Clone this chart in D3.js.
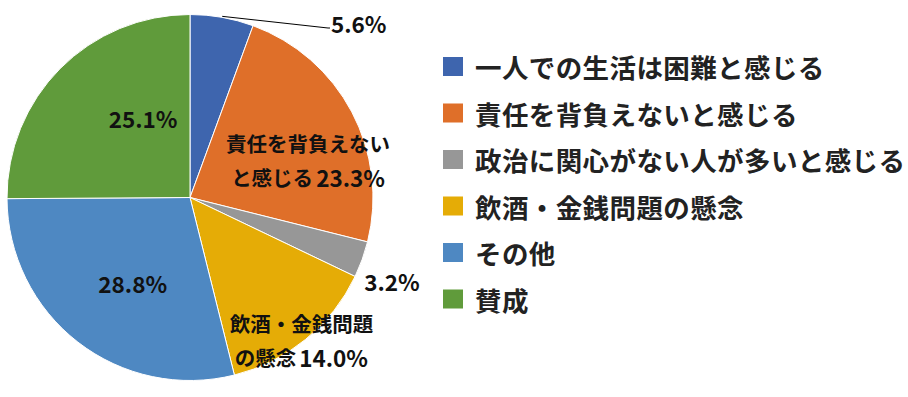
<!DOCTYPE html>
<html>
<head>
<meta charset="utf-8">
<script src="https://cdn.jsdelivr.net/npm/d3@7/dist/d3.min.js"></script>
<style>
  body { margin: 0; background: #fff; }
  text { font-family: "Noto Sans CJK JP", "Noto Sans", sans-serif; }
</style>
</head>
<body>
<script>
// data
var categories = ["一人での生活は困難と感じる", "責任を背負えないと感じる", "政治に関心がない人が多いと感じる",
                  "飲酒・金銭問題の懸念", "その他", "賛成"];
var values = [5.6, 23.3, 3.2, 14.0, 28.8, 25.1];
var colors = ["#3E65AE", "#DF6F29", "#979797", "#E5AC06", "#4E88C2", "#609B3B"];
// label text lines (percent goes after the last line)
var labelLines = [[""], ["責任を背負えない", "と感じる"], [""], ["飲酒・金銭問題", "の懸念"], [""], [""]];

var w = 908, h = 397;
var cx = 190, cy = 197.5, r = 183;

var svg = d3.select("body").append("svg")
    .attr("width", w)
    .attr("height", h);

var pie = d3.pie().sort(null).value(function (d) { return d; });
var arcs = pie(values);
var arc = d3.arc().innerRadius(0).outerRadius(r);

var g = svg.append("g").attr("transform", "translate(" + cx + "," + cy + ")");

g.selectAll("path")
    .data(arcs)
    .enter()
    .append("path")
    .attr("d", arc)
    .attr("fill", function (d, i) { return colors[i]; })
    .attr("stroke", "#fff")
    .attr("stroke-width", 1);

// label placement: radius factor + nudge, per slice
var labelPos = [
  { k: 1.0,  dx: 0,   dy: 0 },    // 5.6 (leader line, handled below)
  { k: 0.6,  dx: 21,  dy: 14 },
  { k: 1.15, dx: 4,   dy: 12 },
  { k: 0.85, dx: 13,  dy: 22 },
  { k: 0.6,  dx: 10,  dy: -1 },
  { k: 0.6,  dx: 31,  dy: -2 }
];

function polar(a, rr) { return [Math.sin(a) * rr, -Math.cos(a) * rr]; }

arcs.forEach(function (d, i) {
  var mid = (d.startAngle + d.endAngle) / 2;
  var pct = d3.format(".1f")(values[i]) + "%";
  if (i === 0) {
    // leader line out to the label
    var p0 = polar(mid, r + 1);
    var p1 = [138, -169.5];
    g.append("polyline")
      .attr("points", [p0, p1, [p1[0] + 2, p1[1]]].map(function (p) { return p.join(","); }).join(" "))
      .attr("fill", "none")
      .attr("stroke", "#000")
      .attr("stroke-width", 1);
    g.append("text")
      .attr("x", p1[0] + 3).attr("y", p1[1] - 5)
      .attr("dominant-baseline", "central")
      .attr("font-size", 22.5).attr("font-weight", "bold")
      .attr("fill", "#111")
      .text(pct);
    return;
  }
  var lp = labelPos[i];
  var p = polar(mid, r * lp.k);
  var lines = labelLines[i];
  var lh = 34.5;
  var t = g.append("text")
    .attr("text-anchor", "middle")
    .attr("font-size", 20.5)
    .attr("font-weight", "bold")
    .attr("fill", "#111");
  lines.forEach(function (s, j) {
    var x = p[0] + lp.dx;
    var y = p[1] + lp.dy + (j - (lines.length - 1) / 2) * lh;
    var last = j === lines.length - 1;
    if (s) {
      t.append("tspan")
        .attr("x", x).attr("y", y)
        .attr("dominant-baseline", "central")
        .text(s);
    }
    if (last) {
      var ps = t.append("tspan")
        .attr("dominant-baseline", "central")
        .attr("font-size", 22.5)
        .text(pct);
      if (s) ps.attr("dx", 3);
      else ps.attr("x", x).attr("y", y);
    }
  });
});

// legend
var legend = svg.append("g").attr("transform", "translate(443,0)");
var rowY = d3.scalePoint().domain(d3.range(categories.length)).range([66.5, 299]);

var rows = legend.selectAll("g")
    .data(categories)
    .enter()
    .append("g")
    .attr("transform", function (d, i) { return "translate(0," + rowY(i) + ")"; });

rows.append("rect")
    .attr("x", 0).attr("y", -9.5)
    .attr("width", 20).attr("height", 19)
    .attr("fill", function (d, i) { return colors[i]; });

rows.append("text")
    .attr("x", 32).attr("y", 0)
    .attr("dominant-baseline", "central")
    .attr("font-size", 26.5)
    .attr("letter-spacing", 0.4)
    .attr("font-weight", "bold")
    .attr("fill", "#222")
    .text(function (d) { return d; });
</script>
</body>
</html>
